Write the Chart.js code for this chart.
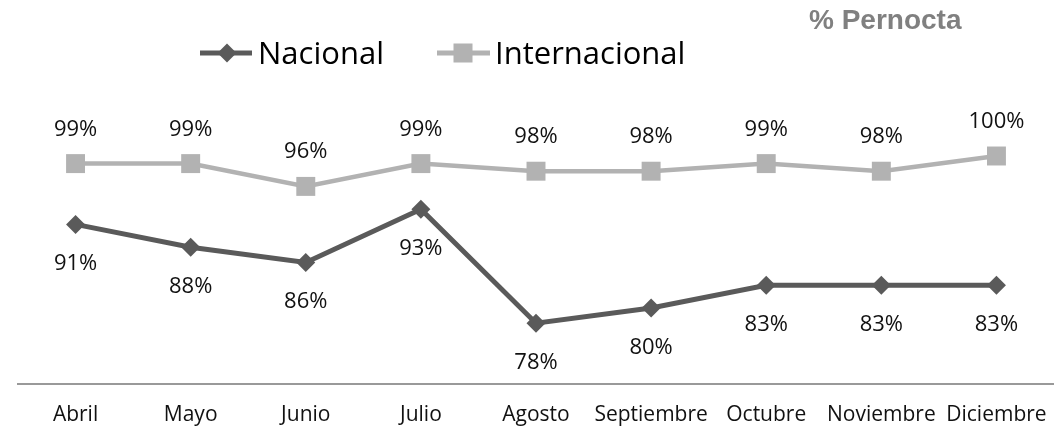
<!DOCTYPE html>
<html>
<head>
<meta charset="utf-8">
<script src="https://cdn.jsdelivr.net/npm/chart.js@4.4.0/dist/chart.umd.min.js"></script>
<style>
  html, body { margin: 0; padding: 0; background: #fff; overflow: hidden; }
  canvas { display: block; }
</style>
</head>
<body>
<canvas id="grafPernocta" width="1054" height="427"></canvas>
<script>
// Meses y porcentaje de pernocta por tipo de visitante
const meses = ['Abril', 'Mayo', 'Junio', 'Julio', 'Agosto', 'Septiembre', 'Octubre', 'Noviembre', 'Diciembre'];
const nacional = [91, 88, 86, 93, 78, 80, 83, 83, 83];
const internacional = [99, 99, 96, 99, 98, 98, 99, 98, 100];

const colorNac = '#5a5a5a';
const colorInt = '#b2b2b2';
const fuente = '"Open Sans", sans-serif';

// Etiquetas de valor (arriba para internacional, abajo para nacional)
const etiquetas = {
  id: 'etiquetas',
  afterDatasetsDraw(chart) {
    const ctx = chart.ctx;
    ctx.save();
    ctx.font = '22px ' + fuente;
    ctx.fillStyle = '#111';
    ctx.textAlign = 'center';
    ctx.textBaseline = 'alphabetic';
    chart.data.datasets.forEach((ds, i) => {
      const meta = chart.getDatasetMeta(i);
      meta.data.forEach((pt, j) => {
        const dy = ds.label === 'Internacional' ? -28 : 46;
        ctx.fillText(ds.data[j] + '%', pt.x, pt.y + dy);
      });
    });
    ctx.restore();
  }
};

// Título y leyenda con línea + marcador
const encabezado = {
  id: 'encabezado',
  afterDraw(chart) {
    const ctx = chart.ctx;
    ctx.save();
    ctx.font = 'bold 28px "Liberation Sans", Arial, sans-serif';
    ctx.fillStyle = '#808080';
    ctx.textAlign = 'left';
    ctx.textBaseline = 'alphabetic';
    ctx.fillText('% Pernocta', 809, 29);

    const y = 53;
    // Nacional
    ctx.strokeStyle = colorNac;
    ctx.lineWidth = 5;
    ctx.beginPath();
    ctx.moveTo(200, y);
    ctx.lineTo(252, y);
    ctx.stroke();
    ctx.fillStyle = colorNac;
    ctx.beginPath();
    ctx.moveTo(227, y - 9.5);
    ctx.lineTo(236.5, y);
    ctx.lineTo(227, y + 9.5);
    ctx.lineTo(217.5, y);
    ctx.closePath();
    ctx.fill();
    // Internacional
    ctx.strokeStyle = colorInt;
    ctx.beginPath();
    ctx.moveTo(437, y);
    ctx.lineTo(490, y);
    ctx.stroke();
    ctx.fillStyle = colorInt;
    ctx.fillRect(453.5, y - 9.5, 19, 19);

    ctx.font = '31px ' + fuente;
    ctx.fillStyle = '#000';
    ctx.fillText('Nacional', 258, 64);
    ctx.fillText('Internacional', 495, 64);
    ctx.restore();
  }
};

new Chart(document.getElementById('grafPernocta'), {
  type: 'line',
  data: {
    labels: meses,
    datasets: [{
      label: 'Nacional',
      data: nacional,
      borderColor: colorNac,
      backgroundColor: colorNac,
      borderWidth: 5,
      pointStyle: 'rectRot',
      pointRadius: 9.5,
      pointBorderWidth: 0,
      tension: 0,
      clip: false
    }, {
      label: 'Internacional',
      data: internacional,
      borderColor: colorInt,
      backgroundColor: colorInt,
      borderWidth: 4.5,
      pointStyle: 'rect',
      pointRadius: 13.4,
      pointBorderWidth: 0,
      tension: 0,
      clip: false
    }]
  },
  options: {
    responsive: false,
    animation: false,
    // el eje x ocupa 62px (lineHeight de las etiquetas), por eso el margen inferior negativo
    layout: { autoPadding: false, padding: { top: 156, left: 18, right: 0, bottom: -19 } },
    scales: {
      x: {
        offset: true,
        grid: { display: false, drawTicks: false },
        border: { display: true, color: '#999', width: 2 },
        ticks: {
          padding: 0,
          maxRotation: 0,
          autoSkip: false,
          color: '#111',
          font: { family: fuente, size: 21, lineHeight: '62px' }
        },
        // que la etiqueta "Diciembre" no recorte el área del gráfico
        afterFit(scale) {
          scale.paddingLeft = 0;
          scale.paddingRight = 0;
        }
      },
      y: {
        display: false,
        min: 70,
        max: 100
      }
    },
    plugins: {
      legend: { display: false },
      title: { display: false },
      tooltip: { enabled: false }
    }
  },
  plugins: [etiquetas, encabezado]
});
</script>
</body>
</html>
